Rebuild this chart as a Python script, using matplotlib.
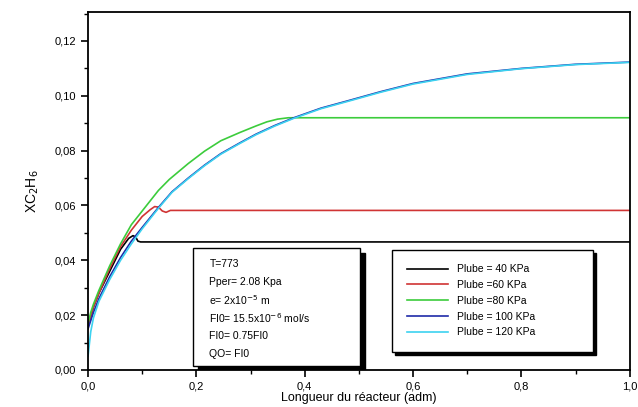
import numpy as np
import matplotlib.pyplot as plt
from matplotlib.patches import Rectangle
from matplotlib.ticker import MultipleLocator, FuncFormatter

plt.rcParams['font.family'] = ['Liberation Sans', 'DejaVu Sans']

# profils
x_40 = [0.0, 0.01, 0.02, 0.04, 0.06, 0.075, 0.083, 0.088, 0.092, 0.097, 1.0]
y_40 = [0.016, 0.023, 0.028, 0.036, 0.044, 0.048, 0.049, 0.0485, 0.047, 0.0467, 0.0467]

x_60 = [0.0, 0.01, 0.02, 0.04, 0.06, 0.08, 0.10, 0.115, 0.123, 0.13, 0.137, 0.144, 0.152, 1.0]
y_60 = [0.016, 0.023, 0.028, 0.037, 0.045, 0.051, 0.056, 0.0585, 0.0596, 0.0594, 0.058,
        0.0575, 0.0582, 0.0582]

x_80 = [0.0, 0.005, 0.01, 0.02, 0.04, 0.06, 0.08, 0.11, 0.13, 0.15, 0.185, 0.215, 0.245,
        0.28, 0.31, 0.33, 0.35, 0.37, 1.0]
y_80 = [0.017, 0.021, 0.024, 0.029, 0.038, 0.046, 0.053, 0.0605, 0.0655, 0.0695, 0.0753,
        0.0798, 0.0836, 0.0866, 0.089, 0.0905, 0.0915, 0.092, 0.092]

x_100 = [0.0, 0.005, 0.01, 0.02, 0.04, 0.06, 0.08, 0.10, 0.13, 0.155, 0.185, 0.215, 0.245,
         0.28, 0.31, 0.345, 0.38, 0.43, 0.48, 0.54, 0.6, 0.7, 0.8, 0.9, 1.0]
y_100 = [0.015, 0.018, 0.021, 0.026, 0.034, 0.041, 0.047, 0.052, 0.0593, 0.065, 0.070, 0.0747,
         0.0789, 0.0828, 0.086, 0.0892, 0.092, 0.0955, 0.0982, 0.1015, 0.1045, 0.108, 0.110,
         0.1115, 0.1123]

x_120 = [0.0, 0.005, 0.01, 0.02, 0.04, 0.06, 0.08, 0.10, 0.13, 0.155, 0.185, 0.215, 0.245,
         0.28, 0.31, 0.345, 0.38, 0.43, 0.48, 0.54, 0.6, 0.7, 0.8, 0.9, 1.0]
y_120 = [0.005, 0.014, 0.019, 0.025, 0.033, 0.040, 0.046, 0.0515, 0.059, 0.0648, 0.0698,
         0.0745, 0.0787, 0.0826, 0.0858, 0.089, 0.0918, 0.0953, 0.098, 0.1013, 0.1043, 0.1078,
         0.1099, 0.1114, 0.1122]

labels = ['Plube = 40 KPa', 'Plube =60 KPa', 'Plube =80 KPa', 'Plube = 100 KPa', 'Plube = 120 KPa']
colors = ['black', '#d03434', '#3ccc3c', '#1f2aa8', '#3cd2f0']

conditions = ['T=773',
              'Pper= 2.08 Kpa',
              r'e= 2x10$^{-5}$ m',
              r'FI0= 15.5x10$^{-6}$ mol/s',
              'FI0= 0.75FI0',
              'QO= FI0']

fig = plt.figure(figsize=(6.38, 4.07), dpi=100)
ax = fig.add_axes([0.138, 0.091, 0.849, 0.879])

series = [(x_40, y_40), (x_60, y_60), (x_80, y_80), (x_100, y_100), (x_120, y_120)]
for (xs, ys), lab, c in zip(series, labels, colors):
    ax.plot(xs, ys, color=c, lw=1.2, label=lab, solid_joinstyle='round')

ax.set_xlim(0, 1.0)
ax.set_ylim(0, 0.1305)
ax.xaxis.set_major_locator(MultipleLocator(0.2))
ax.xaxis.set_minor_locator(MultipleLocator(0.1))
ax.yaxis.set_major_locator(MultipleLocator(0.02))
ax.yaxis.set_minor_locator(MultipleLocator(0.01))
ax.xaxis.set_major_formatter(FuncFormatter(lambda v, p: f'{v:.1f}'.replace('.', ',')))
ax.yaxis.set_major_formatter(FuncFormatter(lambda v, p: f'{v:.2f}'.replace('.', ',')))
ax.tick_params(which='major', direction='out', length=5, width=1.2, labelsize=8)
ax.tick_params(which='minor', direction='out', length=3, width=1.0)
for s in ax.spines.values():
    s.set_linewidth(1.3)

ax.set_xlabel('Longueur du réacteur (adm)', fontsize=9, labelpad=0)
ax.set_ylabel(r'XC$_2$H$_6$', fontsize=10, labelpad=10)

# boite des conditions avec ombre
bx, by, bw, bh = 0.194, 0.011, 0.308, 0.330
ax.add_patch(Rectangle((bx + 0.009, by - 0.014), bw, bh, transform=ax.transAxes,
                       facecolor='black', edgecolor='black', zorder=4))
ax.add_patch(Rectangle((bx, by), bw, bh, transform=ax.transAxes,
                       facecolor='white', edgecolor='black', lw=1.0, zorder=5))
for i, t in enumerate(conditions):
    ax.text(bx + 0.03, by + bh - 0.045 - i * 0.05, t, transform=ax.transAxes,
            fontsize=7.5, va='center', ha='left', zorder=6)

leg = ax.legend(loc='lower left', bbox_to_anchor=(0.552, 0.036, 0.39, 0.299),
                mode='expand', fontsize=7.5, frameon=True, fancybox=False,
                handlelength=4.0, labelspacing=0.55, borderpad=1.4,
                shadow={'color': 'black', 'alpha': 1.0})
leg.get_frame().set_edgecolor('black')
leg.get_frame().set_linewidth(1.0)

fig.savefig('out.png', dpi=100)
